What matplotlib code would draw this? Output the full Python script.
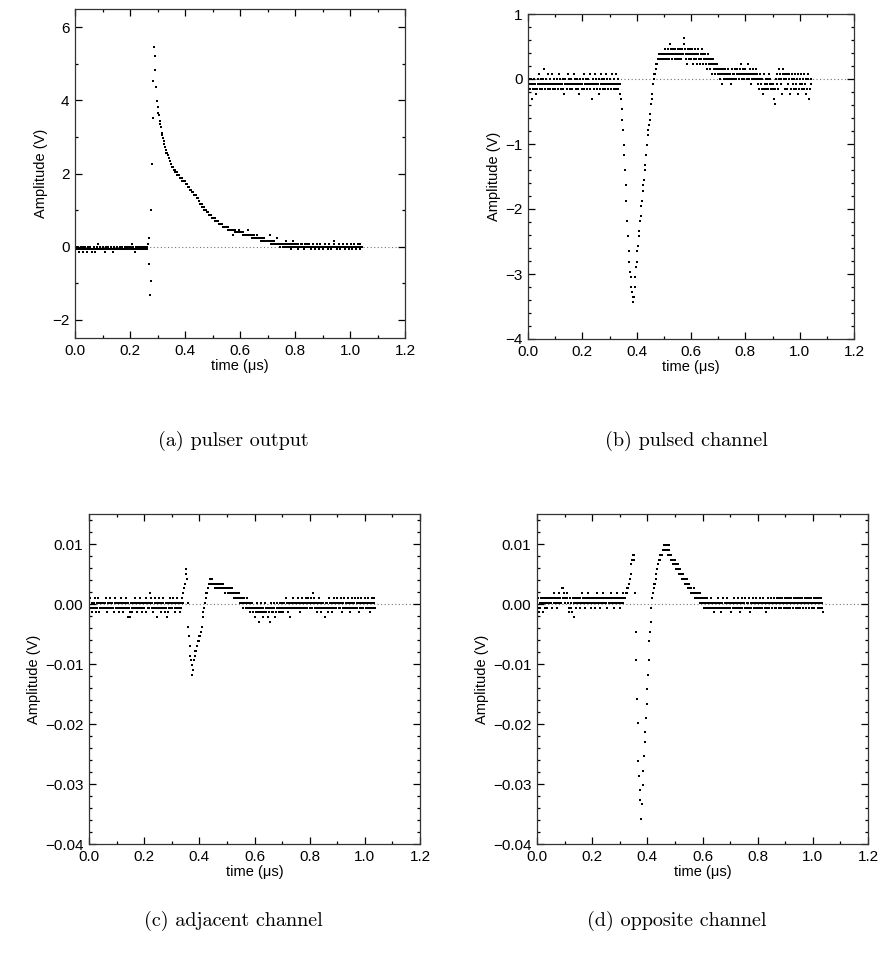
import numpy as np
import matplotlib
matplotlib.use("Agg")
import matplotlib.pyplot as plt
from matplotlib.ticker import MultipleLocator, FuncFormatter

plt.rcParams['font.family'] = ['Liberation Sans', 'DejaVu Sans']

# ---------------- data (digitizer counts, sample interval 2.5 ns) ----------------
dt_us = 0.0025          # sample interval in microseconds
lsb_ab = 0.078          # volts per count, panels (a) and (b)
lsb_cd = 0.0008         # volts per count, panels (c) and (d)
offset_cd = 0.0002      # baseline offset of panels (c) and (d), volts

counts_a = [
    1,0,-1,-1,0,-1,-2,-1,0,-1,-1,-2,0,-1,-1,0,-1,-2,-1,0,
    -1,-1,0,-1,-1,-2,-1,0,-1,-2,-1,-1,0,-1,1,-1,-1,0,-1,-1,
    0,-1,-1,-2,-1,0,-1,-1,0,-1,-1,-1,0,-1,-1,-2,-1,0,-1,-1,
    -1,0,-1,-1,-1,0,-1,-1,0,-1,-1,-1,0,-1,-1,0,-1,-1,0,-1,
    -1,0,-1,1,-1,0,-1,-2,-1,0,-1,-1,0,-1,0,-1,-1,-1,0,-1,
    -1,0,-1,0,-1,0,1,3,-6,-17,-12,13,29,45,58,70,67,62,56,51,
    49,47,46,44,43,42,40,39,38,37,36,35,34,33,33,32,31,31,30,29,
    29,28,28,28,27,27,26,26,26,25,25,25,24,24,24,24,23,23,23,23,
    23,22,22,22,21,21,21,20,20,20,19,19,19,18,18,18,18,17,17,17,
    16,16,15,15,15,14,14,14,13,13,13,13,12,12,12,11,11,11,11,10,
    10,10,10,10,9,9,9,9,9,8,8,8,8,8,8,7,7,7,7,7,
    7,7,7,6,6,6,6,6,6,6,4,6,6,5,5,5,5,5,6,5,
    5,5,5,5,4,5,4,4,4,4,4,6,4,4,4,4,4,3,4,4,
    4,3,3,3,4,3,3,3,3,3,3,2,3,2,2,3,2,2,2,2,
    2,2,2,4,2,1,2,2,1,1,2,1,1,1,3,1,1,1,0,1,
    1,1,0,1,1,0,1,2,1,0,0,1,0,1,-1,1,0,2,1,0,
    0,1,0,0,-1,1,0,0,1,0,1,0,0,-1,0,1,0,0,1,0,
    0,1,0,-1,0,0,1,0,0,-1,0,0,1,0,0,-1,0,1,0,0,
    0,-1,0,0,1,0,0,0,-1,0,1,0,0,-1,0,0,1,2,0,0,
    0,-1,0,0,1,0,-1,0,0,0,1,0,-1,0,0,1,0,0,-1,0,
    0,1,0,-1,0,0,1,0,-1,0,0,1,0,0,-1,1,0,0,
]

counts_b = [
    2,0,-1,-2,0,-1,-4,-2,-1,0,-2,-1,-3,-2,0,-1,1,-2,-1,0,
    -1,-2,0,-1,2,-2,-1,0,-1,-2,1,-1,0,-2,-1,-1,1,-2,0,-1,
    -2,-1,0,-1,-2,-1,1,0,-2,-1,-1,0,-2,-3,-1,0,-1,-2,-1,1,
    0,-1,-2,-1,0,-2,-1,-1,1,0,-2,-1,0,-1,-2,-3,-1,0,-1,-2,
    -1,0,1,-2,-1,0,-1,-2,-1,0,-1,1,-2,-1,-4,0,-1,-2,1,-1,
    0,-2,-1,-1,0,-3,-2,1,-1,0,-2,-1,0,-1,-2,1,-1,0,-2,-1,
    -1,0,-2,-1,1,-1,-2,0,-1,-2,1,-1,0,-2,-1,-1,-3,-4,-6,-8,
    -10,-13,-15,-18,-21,-24,-28,-31,-34,-36,-38,-39,-41,-42,-43,-44,-43,-41,-39,-37,
    -36,-34,-33,-31,-30,-28,-27,-25,-24,-22,-21,-20,-18,-17,-15,-13,-11,-10,-9,-8,
    -7,-5,-4,-3,-1,0,1,1,2,3,3,4,4,5,4,5,4,4,5,4,
    5,4,6,5,4,5,6,4,5,7,5,6,4,5,6,5,4,6,5,4,
    5,6,4,5,6,5,4,6,5,7,8,6,5,4,3,6,5,4,6,5,
    4,5,6,3,5,4,6,5,4,3,5,6,4,3,5,4,6,5,3,4,
    5,4,3,2,4,5,3,4,2,3,4,1,3,4,2,3,1,2,3,2,
    1,2,0,1,2,1,-1,2,0,1,2,0,1,1,0,2,1,0,1,-1,
    0,2,1,0,1,2,0,1,2,1,0,1,2,3,1,0,2,1,0,1,
    2,1,0,1,3,1,0,2,1,-1,0,2,1,0,1,2,0,1,0,-1,
    -2,0,1,-1,-2,0,-3,1,-2,-1,0,-2,-1,0,-2,1,-1,0,-2,-1,
    -2,-1,-4,-5,-2,0,-1,1,-2,0,2,1,0,-1,-3,1,2,0,-2,1,
    0,1,-2,-1,0,1,-3,-2,0,1,-1,-2,0,1,-2,-1,0,1,-3,-2,
    0,-1,1,-2,-1,0,1,-2,-1,0,-3,-2,1,0,-4,-2,-1,0,
]

counts_c = [
    0,-1,1,-1,0,-2,-1,0,1,-1,-2,0,-1,1,0,-2,-1,0,-1,0,
    -1,0,-1,0,1,-1,-2,0,-1,0,-1,1,0,-1,0,-1,-2,0,1,-1,
    0,-1,0,-2,-1,0,1,-1,0,-1,-2,0,-1,0,1,-1,-3,0,-1,-2,
    -3,0,-1,-2,0,-1,1,0,-1,-2,0,-1,0,-1,1,-1,0,-2,-1,0,
    -1,0,-2,1,0,-1,0,-1,0,2,1,-1,0,-2,-1,0,1,-1,-3,0,
    -1,0,1,-1,0,-2,-1,0,1,-1,-2,0,-1,-3,0,-2,-1,1,0,-1,
    0,-1,1,0,-1,-2,0,-1,1,0,-1,0,-2,-1,0,1,0,2,3,4,
    6,7,5,0,-5,-7,-9,-11,-12,-13,-15,-14,-12,-11,-10,-10,-9,-9,-8,-8,
    -7,-7,-6,-6,-5,-3,-2,-1,0,1,2,2,3,3,4,4,5,4,5,4,
    4,4,3,4,3,4,3,3,4,3,3,4,3,3,4,3,3,2,3,3,
    3,2,3,3,2,3,2,3,2,2,1,2,2,1,2,1,1,2,1,0,
    1,0,1,-1,0,1,0,-1,0,1,-1,0,-1,0,-2,-1,0,-1,-2,-1,
    -3,-1,-2,0,-1,-2,-4,-1,-2,-1,0,-2,-3,-1,-2,0,-1,-2,-1,-3,
    -1,-2,-4,-1,0,-2,-1,-2,0,-1,-3,-2,-1,0,-1,-2,-1,0,-2,-1,
    0,-1,-2,0,-1,1,-1,0,-2,-1,0,-1,-3,0,-1,0,1,-1,0,-1,
    0,-1,0,1,-1,0,-2,0,-1,1,0,-1,0,-1,1,0,-1,0,1,0,
    -1,0,1,0,-1,2,0,1,-1,0,-2,-1,0,1,-1,0,-1,-2,0,-1,
    0,-1,-3,0,-1,0,-2,-1,1,0,-1,0,-2,-1,0,1,-1,0,-1,0,
    1,0,-1,0,-1,1,0,-2,-1,0,1,-1,0,-1,0,1,-1,0,-2,-1,
    0,-1,1,0,-1,0,1,-1,0,-1,1,0,-2,-1,0,1,-1,0,-1,0,
    1,-1,0,-1,0,1,-1,-2,0,-1,1,0,-1,0,1,-1,
]

counts_d = [
    0,-1,1,-2,0,-1,1,0,-2,1,0,-1,1,0,1,-1,0,1,0,1,
    0,1,-1,1,0,2,1,0,1,-1,0,1,2,0,1,0,3,1,3,2,
    1,0,1,2,1,0,-1,-2,1,-1,0,-2,1,-3,0,1,0,-1,1,0,
    1,0,-1,1,0,2,1,0,1,-1,0,1,0,1,2,0,1,0,1,-1,
    0,1,0,1,-1,0,1,2,0,1,0,1,-1,0,1,0,2,1,0,1,
    0,1,-1,1,0,1,0,2,1,0,1,-1,0,1,0,1,2,0,1,0,
    1,-1,0,1,0,2,1,1,1,2,2,3,3,4,4,5,6,8,9,10,
    10,9,2,-6,-12,-20,-25,-33,-36,-39,-41,-45,-42,-38,-35,-32,-29,-27,-24,-21,
    -18,-15,-12,-8,-6,-4,-1,1,2,3,4,4,5,6,7,8,8,9,9,10,
    10,10,11,11,12,11,12,11,12,11,10,12,11,10,9,10,9,8,9,8,
    9,8,7,8,7,8,6,7,6,6,5,6,5,5,4,5,4,4,5,3,
    4,3,3,2,3,2,2,3,2,1,2,1,2,1,2,1,0,2,1,0,
    1,0,-1,1,0,-1,1,0,-1,0,-1,0,1,-1,0,-1,0,-2,-1,0,
    -1,0,1,-1,0,-1,0,-2,-1,0,1,-1,0,-1,0,-1,1,0,-1,0,
    -1,0,-2,0,-1,1,0,-1,0,-1,0,1,-1,0,-2,-1,0,1,-1,0,
    0,-1,1,-1,0,-1,0,1,-1,-2,0,-1,0,1,0,-1,0,-1,1,0,
    -1,0,-1,0,1,-1,0,-1,1,0,-1,0,-2,-1,0,1,0,-1,0,1,
    0,-1,0,1,0,-1,0,-1,1,0,1,-1,0,1,-1,0,1,0,-1,1,
    0,-1,1,0,-1,0,1,-1,0,1,0,-1,1,0,1,-1,0,1,0,-1,
    1,0,-1,1,0,1,-1,0,1,0,-1,1,0,1,-1,0,1,1,0,-1,
    0,1,-1,0,1,0,1,-1,0,1,0,-1,1,-1,0,-2,
]

captions = ["(a) pulser output", "(b) pulsed channel",
            "(c) adjacent channel", "(d) opposite channel"]
x_label = "time (\u03bcs)"
y_label = "Amplitude (V)"

# ---------------- figure ----------------
W, H = 882, 961
fig = plt.figure(figsize=(W / 100, H / 100), dpi=100)

def px_axes(l, t, r, b):
    return fig.add_axes([l / W, 1 - b / H, (r - l) / W, (b - t) / H])

panels = [
    dict(box=(75, 9, 405, 338), counts=counts_a, lsb=lsb_ab, off=0.0,
         ylim=(-2.5, 6.5), major=2, minor=1, fmt="int"),
    dict(box=(528, 14, 854, 339), counts=counts_b, lsb=lsb_ab, off=0.0,
         ylim=(-4, 1), major=1, minor=0.2, fmt="int"),
    dict(box=(89, 514, 420, 844), counts=counts_c, lsb=lsb_cd, off=offset_cd,
         ylim=(-0.04, 0.015), major=0.01, minor=0.002, fmt="2f"),
    dict(box=(537, 514, 868, 844), counts=counts_d, lsb=lsb_cd, off=offset_cd,
         ylim=(-0.04, 0.015), major=0.01, minor=0.002, fmt="2f"),
]
caption_pos = [(233, 441), (686, 441), (233, 921), (677, 921)]

def fmt_int(v, pos):
    s = "%d" % round(v)
    return s.replace("-", "\u2212")

def fmt_2f(v, pos):
    s = "%.2f" % v
    if s == "-0.00":
        s = "0.00"
    return s.replace("-", "\u2212")

def fmt_x(v, pos):
    return "%.1f" % v

for p, cap, cpos in zip(panels, captions, caption_pos):
    ax = px_axes(*p["box"])
    c = np.asarray(p["counts"], dtype=float)
    t = np.arange(len(c)) * dt_us
    v = c * p["lsb"] + p["off"]
    ax.axhline(0, color="0.45", linestyle=(0, (1, 2.2)), linewidth=0.8, zorder=1)
    ax.plot(t, v, linestyle="none", marker="s", markersize=1.55,
            markeredgewidth=0, color="black", zorder=2)
    ax.set_xlim(0, 1.2)
    ax.set_ylim(*p["ylim"])
    ax.xaxis.set_major_locator(MultipleLocator(0.2))
    ax.xaxis.set_minor_locator(MultipleLocator(0.1))
    ax.yaxis.set_major_locator(MultipleLocator(p["major"]))
    ax.yaxis.set_minor_locator(MultipleLocator(p["minor"]))
    ax.xaxis.set_major_formatter(FuncFormatter(fmt_x))
    ax.yaxis.set_major_formatter(FuncFormatter(fmt_int if p["fmt"] == "int" else fmt_2f))
    ax.tick_params(which="both", direction="in", top=True, right=True,
                   labelsize=11, width=0.9, colors="black")
    ax.tick_params(which="major", length=5, pad=4)
    ax.tick_params(which="minor", length=2.5)
    for s in ax.spines.values():
        s.set_linewidth(0.9)
        s.set_color("0.2")
    ax.set_xlabel(x_label, fontsize=10.5, labelpad=1)
    ax.set_ylabel(y_label, fontsize=10.5, labelpad=3)
    fig.text(cpos[0] / W, 1 - cpos[1] / H, cap, family="cmr10", fontsize=14.5,
             ha="center", va="center")

fig.savefig("out.png", dpi=100)
